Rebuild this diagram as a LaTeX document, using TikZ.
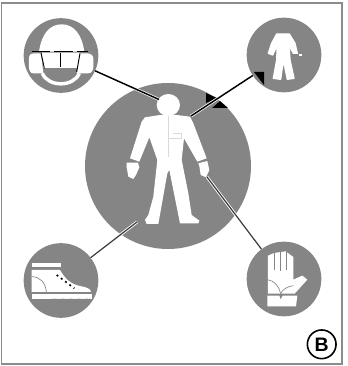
\documentclass[tikz,border=0pt]{standalone}
\usepackage{fontspec}
\setmainfont{Liberation Sans}
\usetikzlibrary{positioning}
\definecolor{badgeGray}{HTML}{858585}
\definecolor{lineGray}{HTML}{3A3A3A}
\definecolor{frameGray}{HTML}{8C8C8C}
\definecolor{seamGray}{HTML}{DADADA}
\tikzset{
  badge/.style={circle, fill=badgeGray, inner sep=0pt, outer sep=0pt, minimum size=56pt},
  bigBadge/.style={circle, fill=badgeGray, inner sep=0pt, outer sep=0pt, minimum size=124.5pt},
  leader/.style={draw=black, line width=1.1pt},
  leaderG/.style={draw=lineGray, line width=0.9pt},
  halo/.style={draw=white, line width=2.2pt},
  cutout/.style={fill=white, draw=none},
  seam/.style={draw=seamGray, line width=0.35pt},
  seamD/.style={draw=badgeGray, line width=0.5pt},
  markB/.style={circle, draw=black, line width=1.2pt, inner sep=0pt, minimum size=21.5pt,
                font=\bfseries\fontsize{14.6}{16}\selectfont},
}
\begin{document}
\begin{tikzpicture}[x=0.75pt, y=-0.75pt]
  \useasboundingbox (0,0) rectangle (348,366);
  \fill[white] (0,0) rectangle (348,366);
  \draw[frameGray, line width=1.3pt] (1.5,3) rectangle (342,364);

  \node[bigBadge] (suit) at (168,166) {};
  \node[badge] (helmet) at (61,55.5) {};
  \node[badge] (overall) at (284,55) {};
  \node[badge] (boot) at (61,280.5) {};
  \node[badge] (glove) at (284,279) {};
  \node[markB] (mark) at (321.7,344.3) {B};

  \coordinate (headTip) at (159,99.5);
  \coordinate (shoulderTip) at (191,116);
  \coordinate (footTip) at (137,222);
  \coordinate (handTip) at (207,177);

  % big figure
  \begin{scope}[shift={(80,80)}, scale=0.3333]
    \fill[cutout] (265,75) ellipse (35 and 33);
    \fill[cutout] (240,105) -- (195,112) -- (185,125) -- (150,235) -- (178,245) -- (208,172)
      -- (232,240) -- (220,350) -- (205,405) -- (195,420) -- (200,432) -- (235,432)
      -- (262,280) -- (268,270) -- (300,430) -- (355,430) -- (358,422) -- (335,405)
      -- (325,340) -- (305,240) -- (312,175) -- (352,245) -- (380,235) -- (340,130)
      -- (330,110) -- (290,105) -- cycle;
    \fill[cutout] (140,248) -- (174,248) -- (178,262) -- (168,285) -- (160,297) -- (145,290) -- (140,262) -- cycle;
    \fill[cutout] (355,250) -- (382,243) -- (388,270) -- (378,292) -- (362,285) -- (358,258) -- cycle;
    \draw[seam] (265,108) -- (265,230);
    \draw[seam] (265,175) -- (305,175) (280,160) -- (305,160) -- (305,175);
  \end{scope}

  % helmet icon
  \begin{scope}[shift={(15,10)}, scale=0.3333]
    \fill[cutout] (72,125) .. controls (80,70) and (105,43) .. (140,43) .. controls (175,43) and (200,70) .. (208,125) -- cycle;
    \fill[cutout] (55,130) -- (78,130) -- (85,190) -- (55,190) .. controls (45,190) and (42,180) .. (42,170) -- (42,145) .. controls (42,135) and (47,130) .. (55,130) -- cycle;
    \fill[cutout] (215,130) -- (193,130) -- (185,190) -- (220,190) .. controls (230,190) and (235,180) .. (235,170) -- (235,145) .. controls (235,135) and (225,130) .. (215,130) -- cycle;
    \fill[cutout] (80,128) -- (195,128) -- (190,174) -- (85,174) -- cycle;
    \draw[white, line width=2.6pt] (82,190) .. controls (100,232) and (175,232) .. (193,190);
    \draw[black, line width=0.7pt, dash pattern=on 14pt off 3pt] (50,125) -- (218,125);
    \draw[black, line width=0.7pt] (78,128) -- (88,175);
    \draw[black, line width=0.7pt] (135,130) -- (135,170);
    \draw[black, line width=0.7pt] (195,130) -- (185,186);
  \end{scope}

  % small overall icon
  \begin{scope}[shift={(240,10)}, scale=0.3333]
    \fill[white, draw=white, line width=1pt, line join=round] (110,72) -- (148,72) -- (165,100) -- (172,130) -- (160,130) -- (147,105) -- (150,150)
      -- (162,205) -- (142,208) -- (130,150) -- (122,208) -- (100,205) -- (110,150) -- (112,105)
      -- (98,135) -- (85,130) -- (95,100) -- cycle;
    \fill[cutout] (177,131) rectangle (187,137);
  \end{scope}

  % boot icon
  \begin{scope}[shift={(15,240)}, scale=0.3333]
    \fill[cutout] (50,68) rectangle (137,80);
    \fill[cutout] (50,90) -- (135,90) .. controls (150,115) and (165,132) .. (195,138)
      .. controls (215,142) and (228,146) .. (228,156) -- (50,156) -- cycle;
    \draw[seamD] (50,110) .. controls (75,110) and (92,128) .. (94,156);
    \fill[cutout] (50,162) rectangle (230,178);
    \draw[black, line width=1.2pt, dash pattern=on 1.4pt off 2.6pt] (125,105) -- (178,145);
    \draw[seam, dash pattern=on 1pt off 1pt] (110,175) -- (230,175);
  \end{scope}

  % glove icon
  \begin{scope}[shift={(174,183)}, scale=0.3333]
    \fill[cutout] (282,218) -- (300,210) -- (335,205) -- (358,222) -- (358,290)
      -- (385,278) -- (400,290) -- (362,332) -- (282,332) -- cycle;
    \fill[cutout] (280,338) -- (316,338) -- (320,350) -- (326,338) -- (370,338) -- (366,370) -- (280,370) -- cycle;
    \draw[seamD] (300,208) -- (300,262);
    \draw[seamD] (318,204) -- (318,265);
    \draw[seamD] (338,206) -- (338,262);
    \draw[seamD] (280,290) .. controls (300,292) and (316,310) .. (320,332);
    \draw[seamD] (358,308) .. controls (342,310) and (326,318) .. (320,332);
  \end{scope}

  % arrow marks
  \fill[black] (206,93) -- (206,103) -- (217,98) -- cycle;
  \fill[black] (212,108) -- (228,108) -- (220,101) -- cycle;
  \fill[black] (254,72) -- (264,72) -- (264,85) -- cycle;

  \draw[halo, yshift=-0.6pt] (helmet) -- (headTip);
  \draw[halo, xshift=-0.7pt, yshift=-1.1pt] (boot) -- (footTip);
  \draw[halo, xshift=-0.9pt, yshift=0.7pt] (glove) -- (handTip);
  \draw[halo, yshift=-1.3pt] (overall) -- (shoulderTip);

  \draw[leader] (helmet) -- (headTip);
  \draw[leader] (overall) -- (shoulderTip);
  \draw[leaderG] (boot) -- (footTip);
  \draw[leaderG] (glove) -- (handTip);
\end{tikzpicture}
\end{document}
